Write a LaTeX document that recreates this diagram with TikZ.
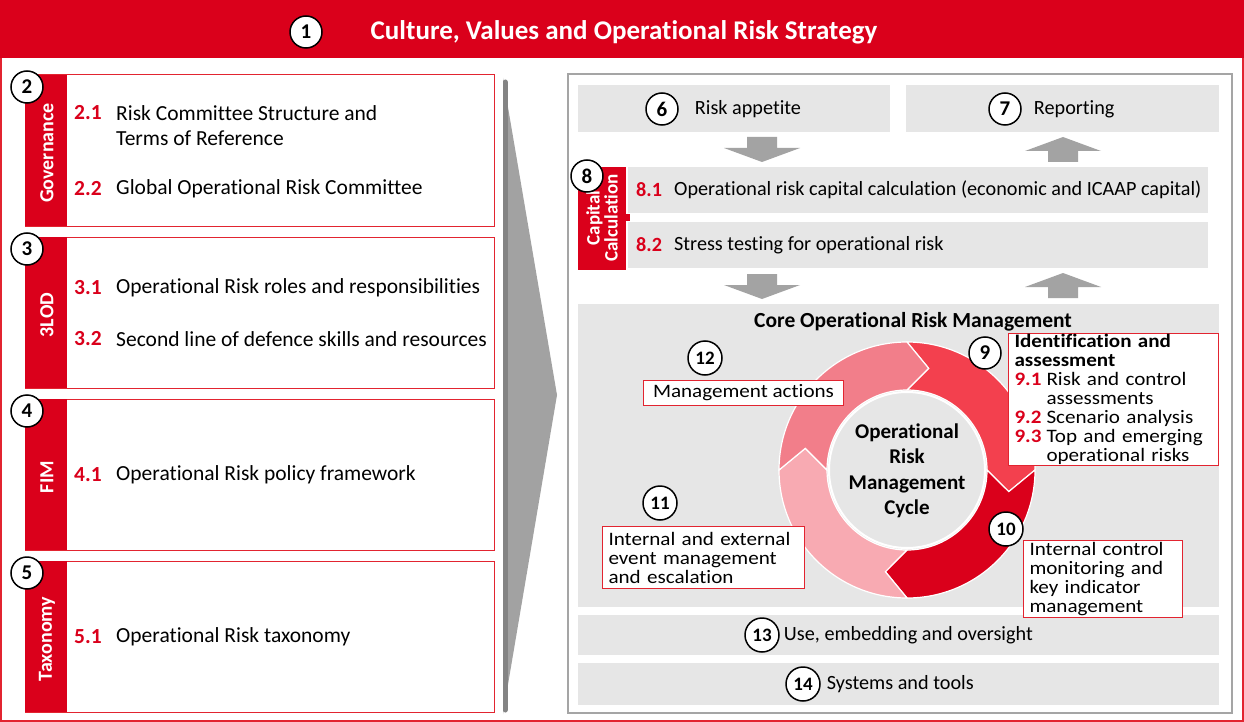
\documentclass[tikz,border=0pt]{standalone}
\usepackage{fontspec}
\setmainfont{Carlito}[Ligatures=NoCommon]
\newfontfamily\widefont{Carlito}[FakeStretch=1.11,Ligatures=NoCommon]
\usetikzlibrary{positioning}
\definecolor{ored}{RGB}{218,0,27}
\definecolor{oline}{RGB}{226,36,48}
\definecolor{panel}{RGB}{230,230,230}
\definecolor{framegray}{RGB}{165,165,165}
\definecolor{blockgray}{RGB}{163,163,163}
\definecolor{chevgray}{RGB}{162,162,162}
\definecolor{chevdark}{RGB}{132,132,132}
\definecolor{ringA}{RGB}{243,64,78}
\definecolor{ringB}{RGB}{218,0,27}
\definecolor{ringC}{RGB}{248,170,178}
\definecolor{ringD}{RGB}{242,126,138}
\newcommand\fsz[1]{\fontsize{#1}{#1}\selectfont}

\begin{document}
\begin{tikzpicture}[x=1pt,y=-1pt,
    num/.style={circle,draw=black,line width=1.5pt,fill=white,minimum size=32pt,inner sep=0pt,font=\fsz{21}\bfseries},
    num2/.style={num,minimum size=34pt,font=\fsz{19}\bfseries},
    tab/.style={rotate=90,text=white,font=\fsz{20}\bfseries},
    lbl/.style={anchor=west,inner sep=0pt,font=\fsz{21.5}},
    idx/.style={lbl,text=ored,font=\fsz{21.5}\bfseries},
    rlbl/.style={lbl,font=\fsz{20.2}},
    ridx/.style={lbl,text=ored,font=\fsz{20.2}\bfseries},
    tag/.style={draw=oline,line width=1pt,fill=white,anchor=north west,align=left,
      inner xsep=6pt,inner ysep=1pt,font=\widefont\fontsize{19}{19}\selectfont}]
    \useasboundingbox (0,0) rectangle (1244,722);

    % header
    \fill[white] (0,0) rectangle (1244,722);
    \draw[oline,line width=1.5pt] (1,1) rectangle (1243,721);
    \fill[ored] (0,0) rectangle (1244,58);
    \node[num] (c1) at (306,32) {1};
    \node[text=white,font=\fsz{27}\bfseries] (title) at (624,32) {Culture, Values and Operational Risk Strategy};

    % left column
    \foreach \n/\y/\lab in {2/75/Governance,3/237/3LOD,4/399/FIM,5/561/Taxonomy} {
      \draw[oline,line width=1pt,fill=white] (25,\y) rectangle (494,\y+151);
      \fill[ored] (25,\y) rectangle (67,\y+151);
      \node[tab] (tab\n) at (47,\y+78) {\lab};
      \node[num] (c\n) at (27,\y+12) {\n};
    }
    \node[idx] (n21) at (74,113) {2.1};
    \node[lbl] (t21) at (116,113) {Risk Committee Structure and};
    \node[lbl] (t21b) at (116,138) {Terms of Reference};
    \node[idx] (n22) at (74,189) {2.2};
    \node[lbl] (t22) at (116,189) {Global Operational Risk Committee};
    \node[idx] (n31) at (74,288) {3.1};
    \node[lbl] (t31) at (116,288) {Operational Risk roles and responsibilities};
    \node[idx] (n32) at (74,339) {3.2};
    \node[lbl] (t32) at (116,339) {Second line of defence skills and resources};
    \node[idx] (n41) at (74,475) {4.1};
    \node[lbl] (t41) at (116,475) {Operational Risk policy framework};
    \node[idx] (n51) at (74,637) {5.1};
    \node[lbl] (t51) at (116,637) {Operational Risk taxonomy};

    % big chevron
    \fill[chevgray] (503,78) -- (557,395) -- (503,714) -- cycle;
    \draw[chevdark,line width=5pt,line cap=round] (505,82) -- (505,710);

    % right panel
    \draw[framegray,line width=1.5pt] (568,74) rectangle (1232,713);
    \fill[panel] (578,85) rectangle (890,132);
    \fill[panel] (906,85) rectangle (1219,132);
    \node[num] (c6) at (662,109) {6};
    \node[rlbl,right=16pt of c6] (t6) {Risk appetite};
    \node[num] (c7) at (1005,109) {7};
    \node[rlbl,right=12pt of c7] (t7) {Reporting};

    % block arrows
    \foreach \x/\y/\d in {762/137/1,1063/162/-1,762/274/1,1063/298/-1}
      \fill[blockgray] (\x-15,\y) -- (\x+15,\y) -- (\x+15,\y+11*\d) -- (\x+38,\y+11*\d)
        -- (\x,\y+25*\d) -- (\x-38,\y+11*\d) -- (\x-15,\y+11*\d) -- cycle;

    % capital calculation
    \fill[panel] (628,167) rectangle (1208,213);
    \fill[panel] (628,222) rectangle (1208,268);
    \fill[ored] (578,167) rectangle (626,270);
    \fill[ored] (626,214) rectangle (630,221);
    \node[tab,align=center,font=\fontsize{19}{18}\selectfont\bfseries] (tab8) at (602,218) {Capital\\Calculation};
    \node[num] (c8) at (587,176) {8};
    \node[ridx] (n81) at (636,190) {8.1};
    \node[rlbl] (t81) at (674,190) {Operational risk capital calculation (economic and ICAAP capital)};
    \node[ridx] (n82) at (636,245) {8.2};
    \node[rlbl] (t82) at (674,245) {Stress testing for operational risk};

    % core
    \fill[panel] (578,304) rectangle (1219,607);
    \node[font=\fsz{21.5}\bfseries] (core) at (913,322) {Core Operational Risk Management};
    \begin{scope}[shift={(907,470)},yscale=-1]
      \foreach \a/\c in {90/ringA,0/ringB,270/ringC,180/ringD}
        \filldraw[fill=\c,draw=white,line width=1.2pt]
          (\a:128) arc[start angle=\a,end angle=\a-90,radius=128]
          -- (\a-102:104) -- (\a-90:80)
          arc[start angle=\a-90,end angle=\a,radius=80]
          -- (\a-12:104) -- cycle;
      \filldraw[fill=panel,draw=white,line width=2pt] (0,0) circle[radius=78];
    \end{scope}
    \node[align=center,font=\fontsize{21}{25.5}\selectfont\bfseries] (cyc) at (907,471) {Operational\\Risk\\Management\\Cycle};

    \node[num2] (c12) at (705,358) {12};
    \node[tag,minimum width=200pt,minimum height=25pt] (t12) at (643,380) {Management actions};
    \node[num] (c9) at (985,353) {9};
    \node[tag,text width=198pt] (t9) at (1008,333) {{\bfseries Identification and\\assessment}\\
      {\color{ored}\bfseries 9.1}\hspace{5pt}Risk and control\\
      \hphantom{\bfseries 9.1}\hspace{5pt}assessments\\
      {\color{ored}\bfseries 9.2}\hspace{5pt}Scenario analysis\\
      {\color{ored}\bfseries 9.3}\hspace{5pt}Top and emerging\\
      \hphantom{\bfseries 9.3}\hspace{5pt}operational risks};
    \node[num2] (c11) at (660,503) {11};
    \node[tag,text width=190pt,minimum height=62pt] (t11) at (602,526) {Internal and external\\event management\\and escalation};

    % bottom bars
    \fill[panel] (578,615) rectangle (1219,655);
    \fill[panel] (578,663) rectangle (1219,705);
    \node[num2] (c13) at (762,635) {13};
    \node[rlbl,right=4pt of c13] (t13) {Use, embedding and oversight};
    \node[num2] (c14) at (803,684) {14};
    \node[rlbl,right=6pt of c14] (t14) {Systems and tools};

    \node[num2] (c10) at (1006,529) {10};
    \node[tag,text width=147pt,minimum height=77pt] (t10) at (1023,540) {Internal control\\monitoring and\\key indicator\\management};
  \end{tikzpicture}
\end{document}
